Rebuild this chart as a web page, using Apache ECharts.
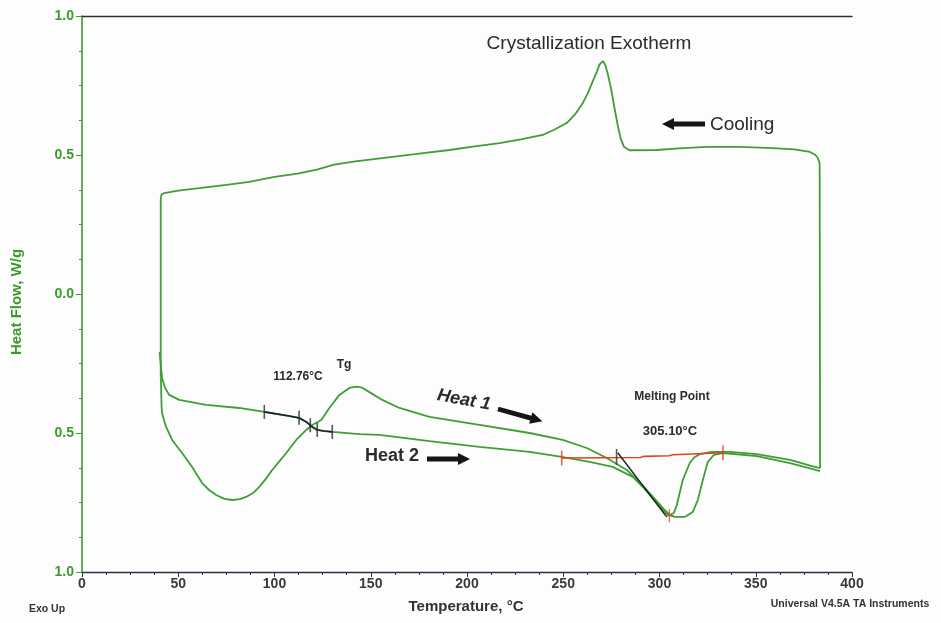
<!DOCTYPE html>
<html>
<head>
<meta charset="utf-8">
<script src="https://cdn.jsdelivr.net/npm/echarts@6/dist/echarts.min.js"></script>
<style>
  html, body { margin: 0; padding: 0; background: #fdfdfd; }
  #chart { width: 941px; height: 623px; }
</style>
</head>
<body>
<div id="chart"></div>
<script>
// DSC thermogram: first heat, cooling and second heat.
// Points are [temperature in °C, heat flow in W/g].

const heat1 = [
  [41.0,-0.30],[41.3,-0.40],[41.6,-0.428],[42.7,-0.457],[43.7,-0.478],[46.8,-0.525],[52.0,-0.572],
  [57.2,-0.622],[62.4,-0.680],[66.0,-0.705],[69.7,-0.723],[74.0,-0.737],[78.0,-0.741],[82.0,-0.738],
  [85.3,-0.730],[89.0,-0.715],[92.1,-0.694],[95.5,-0.665],[98.8,-0.633],[102.5,-0.602],[106.1,-0.572],
  [111.3,-0.525],[116.5,-0.489],[119.6,-0.471],[124.3,-0.453],[128.5,-0.410],[133.7,-0.363],
  [138.9,-0.338],[142.5,-0.333],[145.6,-0.337],[149.3,-0.353],[156.0,-0.381],[164.9,-0.410],
  [180.5,-0.442],[206.5,-0.471],[232.5,-0.500],[249.7,-0.525],[262.2,-0.554],[272.6,-0.590],
  [283.0,-0.633],[288.2,-0.669],[293.4,-0.705],[298.6,-0.745],[302.7,-0.777],[305.3,-0.795],
  [307.4,-0.788],[309.0,-0.759],[310.5,-0.715],[312.1,-0.669],[315.7,-0.608],[318.0,-0.588],
  [320.9,-0.576],[327.2,-0.568],[336.5,-0.568],[350.6,-0.576],[367.8,-0.597],[379.2,-0.619],
  [383.4,-0.626]
];

const cooling = [
  [383.4,-0.626],[383.3,0.0],[383.2,0.47],[382.2,0.49],[381.0,0.50],[378.2,0.511],[370.0,0.520],
  [358.9,0.525],[341.7,0.529],[324.6,0.529],[310.0,0.524],[298.6,0.518],[284.5,0.517],[281.5,0.530],
  [279.8,0.560],[278.2,0.610],[276.6,0.670],[274.8,0.740],[273.2,0.790],[271.8,0.825],[270.6,0.838],
  [269.8,0.832],[268.8,0.825],[267.5,0.800],[265.3,0.765],[262.6,0.720],[260.0,0.685],[256.0,0.645],
  [251.8,0.615],[245.0,0.590],[239.3,0.572],[228.0,0.556],[216.9,0.543],[204.0,0.531],[190.9,0.518],
  [173.0,0.503],[156.0,0.489],[142.0,0.477],[131.0,0.465],[122.0,0.447],[112.0,0.433],[100.0,0.421],
  [86.9,0.403],[74.0,0.392],[60.9,0.381],[50.0,0.372],[42.7,0.363],[41.3,0.358],[40.9,0.340],
  [40.9,-0.30]
];

const heat2 = [
  [40.3,-0.209],[40.8,-0.245],[41.6,-0.302],[43.2,-0.338],[45.3,-0.363],[50.5,-0.381],[64.5,-0.399],
  [81.7,-0.410],[94.7,-0.424],[107.7,-0.439],[112.9,-0.446],[116.5,-0.460],[119.6,-0.478],
  [122.2,-0.489],[125.9,-0.493],[130.0,-0.496],[144.1,-0.504],[154.5,-0.507],[180.5,-0.529],
  [206.5,-0.550],[232.5,-0.568],[249.2,-0.586],[263.7,-0.604],[275.7,-0.622],[286.1,-0.658],
  [292.3,-0.701],[298.6,-0.752],[303.8,-0.791],[307.9,-0.802],[313.1,-0.802],[317.3,-0.784],
  [319.9,-0.741],[322.5,-0.669],[325.1,-0.604],[328.2,-0.579],[332.9,-0.572],[350.6,-0.583],
  [367.8,-0.608],[379.2,-0.629],[383.4,-0.637]
];

// Glass transition analysis
const tgValue = 112.76;
const tgRange = [94.7, 130.0];
const tgTicks = [[94.7,-0.424],[tgValue,-0.445],[118.6,-0.472],[122.2,-0.489],[130.0,-0.496]];

// Melting analysis
const meltValue = 305.10;
const meltBaseline = [[249.2,-0.590],[290.0,-0.588],[292.0,-0.584],[305.0,-0.582],[307.0,-0.578],[333.0,-0.571]];
const meltBaselineTicks = [[249.2,-0.590],[333.0,-0.571]];
const meltOnsetTick = [[277.7,-0.586]];
const meltTangent = [[278.3,-0.571],[303.8,-0.802]];
const meltPeak = [[meltValue,-0.798]];

// Axis ticks
const xTicks = [0, 50, 100, 150, 200, 250, 300, 350, 400];
const yTickValues = [1, 0.5, 0, -0.5, -1];
const yTickLabels = ['1.0', '0.5', '0.0', '0.5', '1.0'];

const FONT = '"Liberation Sans", Arial, sans-serif';
const GREEN = '#3f9e35';
const AXIS_GREEN = '#3c9a2c';
const INK = '#2c2a2a';

function arrowPoints(len, halfBody, headLen, halfHead) {
  return [[0,-halfBody],[len-headLen,-halfBody],[len-headLen,-halfHead],[len,0],
          [len-headLen,halfHead],[len-headLen,halfBody],[0,halfBody]];
}
function label(text, x, y, size, opts) {
  opts = opts || {};
  return {
    type: 'text', x: x, y: y, rotation: opts.rotation || 0, z: 100,
    style: {
      text: text,
      font: (opts.style || 'normal') + ' ' + (opts.weight || 'normal') + ' ' + size + 'px ' + FONT,
      fill: opts.fill || INK,
      align: opts.align || 'center', textAlign: opts.align || 'center',
      verticalAlign: 'middle', textVerticalAlign: 'middle'
    }
  };
}
function arrow(x, y, rotation, len) {
  return {
    type: 'polygon', x: x, y: y, rotation: rotation, z: 100,
    shape: { points: arrowPoints(len, 2.4, 12, 6) },
    style: { fill: '#151515' }
  };
}

const chart = echarts.init(document.getElementById('chart'));

const tickSeries = (data, color, h) => ({
  type: 'scatter', data: data, symbol: 'rect', symbolSize: [1.6, h],
  itemStyle: { color: color }, z: 6, silent: true
});

chart.setOption({
  animation: false,
  backgroundColor: '#fdfdfd',
  grid: { left: 82, right: 89, top: 16, bottom: 51 },
  xAxis: [{
    type: 'value', position: 'bottom', min: xTicks[0], max: xTicks[xTicks.length - 1], interval: 50,
    axisLine: { onZero: false, lineStyle: { color: '#2b3344', width: 1.4 } },
    axisTick: { inside: false, length: 5, lineStyle: { color: '#2b3344' } },
    minorTick: { show: true, splitNumber: 4, length: 3, lineStyle: { color: '#2b3344' } },
    splitLine: { show: false },
    axisLabel: { color: '#3a3a3a', fontWeight: 'bold', fontSize: 14, fontFamily: FONT, margin: 5 }
  }, {
    type: 'value', position: 'top', min: xTicks[0], max: xTicks[xTicks.length - 1],
    axisLine: { onZero: false, lineStyle: { color: '#2f2f2f', width: 1.4 } },
    axisTick: { show: false }, axisLabel: { show: false }, splitLine: { show: false }
  }],
  yAxis: {
    type: 'value', min: -1, max: 1, interval: 0.5,
    axisLine: { onZero: false, lineStyle: { color: AXIS_GREEN, width: 1.6 } },
    axisTick: { inside: false, length: 6, lineStyle: { color: AXIS_GREEN } },
    minorTick: { show: true, splitNumber: 4, length: 3, lineStyle: { color: AXIS_GREEN } },
    splitLine: { show: false },
    axisLabel: {
      color: AXIS_GREEN, fontWeight: 'bold', fontSize: 14, fontFamily: FONT, margin: 8,
      formatter: v => {
        const i = yTickValues.findIndex(t => Math.abs(t - v) < 1e-9);
        return i >= 0 ? yTickLabels[i] : '';
      }
    }
  },
  series: [
    { name: 'Heat 2', type: 'line', data: heat2, showSymbol: false, lineStyle: { color: GREEN, width: 1.8 }, z: 3 },
    { name: 'Heat 1', type: 'line', data: heat1, showSymbol: false, lineStyle: { color: GREEN, width: 1.8 }, z: 3 },
    { name: 'Cooling', type: 'line', data: cooling, showSymbol: false, lineStyle: { color: GREEN, width: 1.8 }, z: 3 },
    // Tg step analysis
    { type: 'line', data: heat2.filter(p => p[0] >= tgRange[0] && p[0] <= tgRange[1]),
      showSymbol: false, lineStyle: { color: '#1d1d2a', width: 1.6 }, z: 5 },
    tickSeries(tgTicks, '#2a2a2a', 14),
    // Melting analysis
    { type: 'line', data: meltBaseline, showSymbol: false, lineStyle: { color: '#e2421f', width: 1.6 }, z: 5 },
    { type: 'line', data: meltTangent, showSymbol: false, lineStyle: { color: '#222', width: 1.4 }, z: 5 },
    tickSeries(meltBaselineTicks, '#e2421f', 15),
    tickSeries(meltOnsetTick, '#333', 16),
    { type: 'scatter', data: meltPeak, symbol: 'path://M4,0h1.4v12h-1.4zM0,5.3h9.4v1.4h-9.4z',
      symbolSize: [9, 13], itemStyle: { color: '#d8522a' }, z: 6, silent: true }
  ],
  graphic: [
    label('Crystallization Exotherm', 589, 44, 19),
    label('Cooling', 710, 125, 19, { align: 'left' }),
    arrow(705, 124, Math.PI, 43),
    label('Heat 1', 464, 400, 18, { style: 'italic', weight: 'bold', rotation: -0.18 }),
    arrow(498, 409, -0.27, 46),
    label('Heat 2', 392, 456, 18, { weight: 'bold' }),
    arrow(427, 459, 0, 43),
    label(tgValue.toFixed(2) + '°C', 298, 377, 12, { weight: 'bold' }),
    label('Tg', 344, 365, 12, { weight: 'bold' }),
    label('Melting Point', 672, 397, 12, { weight: 'bold' }),
    label(meltValue.toFixed(2) + '°C', 670, 431, 13, { weight: 'bold' }),
    label('Heat Flow, W/g', 17, 302, 15, { weight: 'bold', fill: AXIS_GREEN, rotation: Math.PI / 2 }),
    label('Temperature, °C', 466, 607, 15, { weight: 'bold', fill: '#333' }),
    label('Exo Up', 47, 609, 10.5, { weight: 'bold', fill: '#333' }),
    label('Universal V4.5A TA Instruments', 850, 604, 10.5, { weight: 'bold', fill: '#333' })
  ]
});
</script>
</body>
</html>
